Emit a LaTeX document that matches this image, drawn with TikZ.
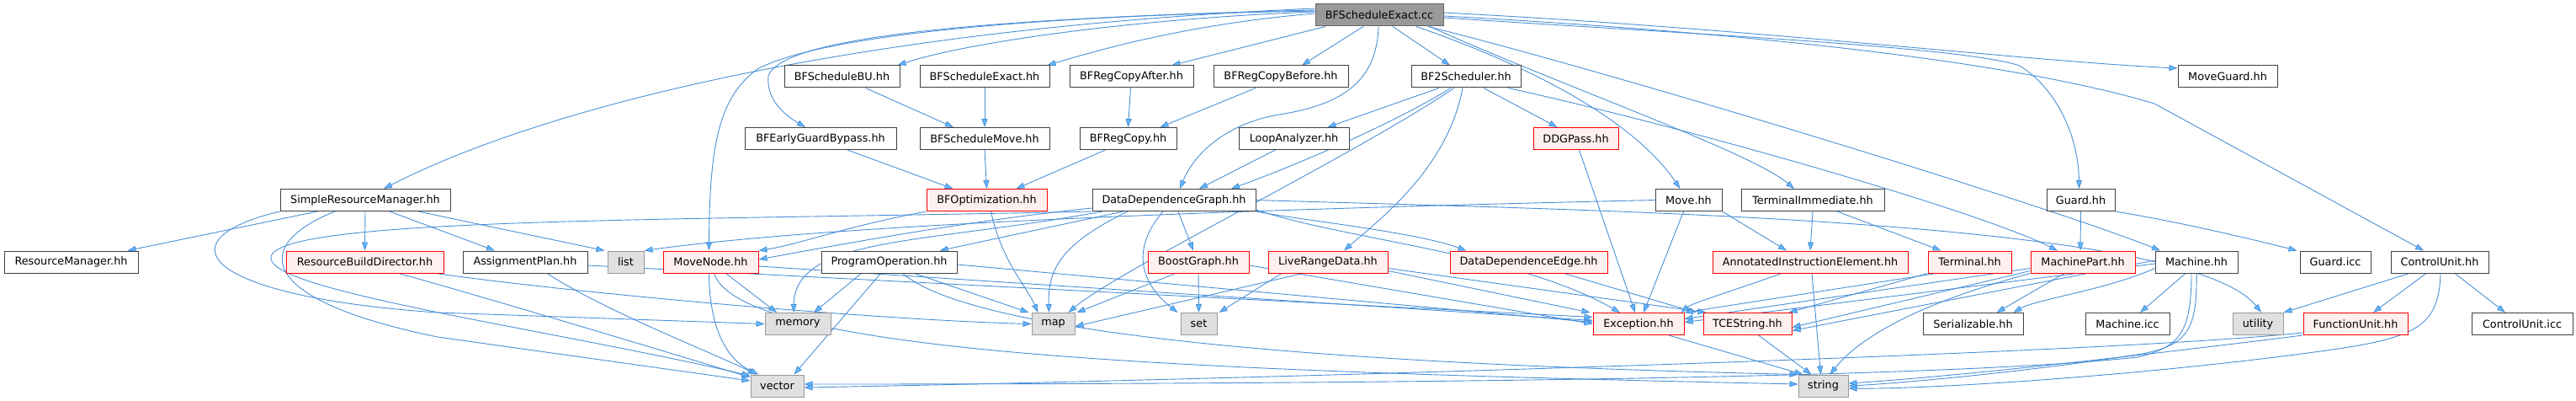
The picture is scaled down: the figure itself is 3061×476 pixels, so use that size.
\documentclass[tikz,border=0pt]{standalone}
\usepackage{fontspec}
\setmainfont{DejaVu Sans}
\usetikzlibrary{arrows.meta}
\definecolor{edgec}{HTML}{4A90D6}
\definecolor{arrowc}{HTML}{63B8FF}
\definecolor{nborder}{HTML}{404040}
\definecolor{rfill}{HTML}{FFF0F0}
\definecolor{sfill}{HTML}{E0E0E0}
\definecolor{sborder}{HTML}{999999}
\definecolor{rootfill}{HTML}{999999}
\definecolor{rootborder}{HTML}{666666}
\pgfdeclarelayer{bg}
\pgfsetlayers{bg,main}
\tikzset{
  base/.style={rectangle, minimum height=26pt, inner sep=0pt, line width=1pt, text=black},
  norm/.style={base, draw=nborder, fill=white},
  trunc/.style={base, draw=red, fill=rfill},
  sys/.style={base, draw=sborder, fill=sfill},
  rootn/.style={base, draw=rootborder, fill=rootfill},
  e/.style={draw=edgec, line width=0.9pt, -{Triangle[length=10pt,width=7pt,fill=arrowc]}}
}
\begin{document}
\begin{tikzpicture}[x=1pt,y=-1pt,font=\fontsize{12.8}{15}\selectfont]
\useasboundingbox (0,0) rectangle (3061,476);
% row 0
\node[rootn, minimum width=152] (root) at (1639,18) {BFScheduleExact.cc};
% row 1
\node[norm, minimum width=137] (bfbu) at (1000.5,91) {BFScheduleBU.hh};
\node[norm, minimum width=154] (bfexh) at (1170,91) {BFScheduleExact.hh};
\node[norm, minimum width=147] (bfrca) at (1344.5,91) {BFRegCopyAfter.hh};
\node[norm, minimum width=160] (bfrcb) at (1522,91) {BFRegCopyBefore.hh};
\node[norm, minimum width=130] (bf2s) at (1742,91) {BF2Scheduler.hh};
\node[norm, minimum width=118] (moveguard) at (2647,91) {MoveGuard.hh};
% row 2
\node[norm, minimum width=180] (bfegb) at (975,164.5) {BFEarlyGuardBypass.hh};
\node[norm, minimum width=154] (bfsm) at (1170,164.5) {BFScheduleMove.hh};
\node[norm, minimum width=115] (bfrc) at (1340.5,164.5) {BFRegCopy.hh};
\node[norm, minimum width=131] (loop) at (1537.5,164.5) {LoopAnalyzer.hh};
\node[trunc, minimum width=101] (ddgpass) at (1872.5,164.5) {DDGPass.hh};
% row 3
\node[norm, minimum width=202] (srm) at (434,237.5) {SimpleResourceManager.hh};
\node[trunc, minimum width=143] (bfopt) at (1172.5,237.5) {BFOptimization.hh};
\node[norm, minimum width=194] (ddg) at (1395,237.5) {DataDependenceGraph.hh};
\node[norm, minimum width=79] (move) at (2006.5,237.5) {Move.hh};
\node[norm, minimum width=170] (termimm) at (2154,237.5) {TerminalImmediate.hh};
\node[norm, minimum width=81] (guard) at (2472.5,237.5) {Guard.hh};
% row 4
\node[norm, minimum width=159] (resmgr) at (84.5,311) {ResourceManager.hh};
\node[trunc, minimum width=187] (rbd) at (433.5,311) {ResourceBuildDirector.hh};
\node[norm, minimum width=148] (aplan) at (624,311) {AssignmentPlan.hh};
\node[sys, minimum width=43] (list) at (743.5,311) {list};
\node[trunc, minimum width=113] (movenode) at (844.5,311) {MoveNode.hh};
\node[norm, minimum width=161] (progop) at (1056.5,311) {ProgramOperation.hh};
\node[trunc, minimum width=120] (boost) at (1424,311) {BoostGraph.hh};
\node[trunc, minimum width=142] (lrd) at (1578,311) {LiveRangeData.hh};
\node[trunc, minimum width=187] (dde) at (1816.5,311) {DataDependenceEdge.hh};
\node[trunc, minimum width=232] (aie) at (2151,311) {AnnotatedInstructionElement.hh};
\node[trunc, minimum width=99] (terminal) at (2340.5,311) {Terminal.hh};
\node[trunc, minimum width=124] (machpart) at (2475,311) {MachinePart.hh};
\node[norm, minimum width=98] (machine) at (2610,311) {Machine.hh};
\node[norm, minimum width=84] (guardicc) at (2775,311) {Guard.icc};
\node[norm, minimum width=116] (cu) at (2899,311) {ControlUnit.hh};
% row 5
\node[sys, minimum width=78] (memory) at (948,384.5) {memory};
\node[sys, minimum width=51] (map) at (1251.5,384.5) {map};
\node[sys, minimum width=43] (set) at (1424.5,384.5) {set};
\node[trunc, minimum width=108] (exception) at (1947,384.5) {Exception.hh};
\node[trunc, minimum width=105] (tcestring) at (2076.5,384.5) {TCEString.hh};
\node[norm, minimum width=119] (serial) at (2344.5,384.5) {Serializable.hh};
\node[norm, minimum width=100] (machicc) at (2528,384.5) {Machine.icc};
\node[sys, minimum width=60] (utility) at (2683,384.5) {utility};
\node[trunc, minimum width=124] (fu) at (2799,384.5) {FunctionUnit.hh};
\node[norm, minimum width=120] (cuicc) at (2997,384.5) {ControlUnit.icc};
% row 6
\node[sys, minimum width=63] (vector) at (923.5,458) {vector};
\node[sys, minimum width=59] (string) at (2166.5,458) {string};

\begin{pgfonlayer}{bg}
% root
\draw[e] ([yshift=4]root.west) .. controls (1350,22) and (1150,50) .. ([xshift=-3]bfbu.north east);
\draw[e] ([yshift=2]root.west) .. controls (1420,28) and (1320,55) .. ([xshift=-3]bfexh.north east);
\draw[e] ([xshift=-64]root.south) -- ([xshift=48]bfrca.north);
\draw[e] ([xshift=-19]root.south) -- ([xshift=25]bfrcb.north);
\draw[e] ([xshift=16]root.south) -- ([xshift=-19]bf2s.north);
\draw[e] ([yshift=6]root.west) .. controls (1150,22) and (930,45) .. (913,90) .. controls (910,120) and (935,138) .. ([xshift=-18]bfegb.north);
\draw[e] ([yshift=5]root.west) .. controls (1150,20) and (960,50) .. (900,82) .. controls (855,115) and (843,170) .. ([xshift=-2]movenode.north);
\draw[e] ([yshift=8]root.west) .. controls (1000,35) and (640,130) .. ([xshift=22]srm.north);
\draw[e] ([xshift=-1]root.south) .. controls (1636,100) and (1590,125) .. (1520,136) .. controls (1460,146) and (1420,180) .. ([xshift=7]ddg.north);
\draw[e] ([xshift=44]root.south) .. controls (1880,100) and (1960,170) .. ([xshift=-10]move.north);
\draw[e] ([xshift=60]root.south) .. controls (1850,100) and (2080,180) .. ([xshift=-22]termimm.north);
\draw[e] ([yshift=-3]root.east) .. controls (2000,40) and (2330,55) .. (2400,78) .. controls (2450,110) and (2470,170) .. ([xshift=-2]guard.north);
\draw[e] ([yshift=3]root.east) .. controls (2100,35) and (2400,72) .. ([yshift=10]moveguard.west);
\draw[e] ([yshift=-1]root.east) .. controls (2100,40) and (2400,75) .. (2560,123) -- ([xshift=-19]cu.north);
\draw[e] ([xshift=58]root.south) .. controls (1950,95) and (2450,250) .. ([xshift=-43]machine.north);
% bf2s
\draw[e] ([xshift=-32]bf2s.south) -- ([xshift=40]loop.north);
\draw[e] ([xshift=21]bf2s.south) -- ([xshift=-22]ddgpass.north);
\draw[e] ([xshift=-18]bf2s.south) .. controls (1650,150) and (1530,200) .. ([xshift=68]ddg.north);
\draw[e] ([xshift=-14]bf2s.south) .. controls (1600,190) and (1330,320) .. ([xshift=18]map.north);
\draw[e] ([xshift=-4]bf2s.south) .. controls (1720,200) and (1640,260) .. ([xshift=19]lrd.north);
\draw[e] ([xshift=50]bf2s.south) .. controls (2000,150) and (2350,250) .. ([xshift=-30]machpart.north);
% rows 1-3
\draw[e] ([xshift=28]bfbu.south) -- ([xshift=-37]bfsm.north);
\draw[e] (bfexh.south) -- (bfsm.north);
\draw[e] ([xshift=-1]bfrca.south) -- (bfrc.north);
\draw[e] ([xshift=-30]bfrcb.south) -- ([xshift=38]bfrc.north);
\draw[e] ([xshift=32]bfegb.south) -- ([xshift=-40]bfopt.north);
\draw[e] (bfsm.south) -- (bfopt.north);
\draw[e] ([xshift=-27]bfrc.south) -- ([xshift=35]bfopt.north);
\draw[e] ([xshift=-22]loop.south) -- ([xshift=30]ddg.north);
\draw[e] ([xshift=4]ddgpass.south) -- ([xshift=-4]exception.north);
% srm
\draw[e] ([xshift=-57]srm.south) -- ([xshift=67]resmgr.north);
\draw[e] (srm.south) -- (rbd.north);
\draw[e] ([xshift=29]srm.south) -- ([xshift=-36]aplan.north);
\draw[e] ([xshift=63]srm.south) -- ([xshift=-3]list.north west);
\draw[e] (srm.south west) .. controls (190,285) and (240,352) .. (520,371) -- (memory.west);
\draw[e] ([xshift=-36]srm.south) .. controls (300,290) and (300,355) .. (520,400) -- ([yshift=6]vector.west);
% rbd, aplan
\draw[e] ([xshift=40]rbd.south) .. controls (550,345) and (800,420) .. ([yshift=10]vector.west);
\draw[e] ([xshift=-10]rbd.south east) .. controls (700,350) and (1050,380) .. (map.west);
\draw[e] ([xshift=26]aplan.south) .. controls (720,370) and (850,420) .. ([xshift=-25]vector.north);
\draw[e] ([yshift=-4]aplan.east) -- ([yshift=8]exception.west);
% movenode
\draw[e] ([xshift=18]movenode.south) -- ([xshift=-25]memory.north);
\draw[e] ([xshift=-2]movenode.south) .. controls (843,400) and (870,430) .. ([xshift=-22]vector.north);
\draw[e] ([xshift=4]movenode.south) .. controls (880,420) and (1400,440) .. ([yshift=2]string.west);
\draw[e] ([yshift=-5]movenode.east) -- ([yshift=4]exception.west);
% progop
\draw[e] ([xshift=-33]progop.south) -- ([xshift=19]memory.north);
\draw[e] ([xshift=-10]progop.south) -- ([xshift=20]vector.north);
\draw[e] ([xshift=30]progop.south) -- ([xshift=-3]map.north west);
\draw[e] ([xshift=16]progop.south) .. controls (1150,390) and (1500,430) .. (string.north west);
\draw[e] ([yshift=-3]progop.east) -- ([yshift=2]exception.west);
% boost, lrd, dde
\draw[e] (boost.south) -- (set.north);
\draw[e] ([xshift=-27]boost.south) -- ([xshift=2]map.north east);
\draw[e] ([yshift=-4]boost.east) -- (exception.west);
\draw[e] ([xshift=-55]lrd.south) -- ([xshift=2]set.north east);
\draw[e] ([xshift=-30]lrd.south) -- ([yshift=-3]map.east);
\draw[e] ([yshift=3]lrd.south east) -- ([xshift=-3]exception.north west);
\draw[e] ([yshift=6]lrd.south east) -- ([xshift=4]tcestring.north west);
\draw[e] ([xshift=42]dde.south) -- ([xshift=-8]tcestring.north west);
% ddg
\draw[e] ([xshift=5]ddg.south) -- ([xshift=-6]boost.north);
\draw[e] ([xshift=-13]ddg.south) .. controls (1340,300) and (1360,340) .. ([xshift=-25]set.north);
\draw[e] ([xshift=-55]ddg.south) .. controls (1260,290) and (1245,320) .. ([xshift=-5]map.north);
\draw[e] ([xshift=-85]ddg.south) .. controls (1100,290) and (945,280) .. ([xshift=-5]memory.north);
\draw[e] ([yshift=4]ddg.south west) .. controls (1150,262) and (1000,290) .. ([yshift=3]movenode.east);
\draw[e] ([xshift=-60]ddg.south) -- ([xshift=60]progop.north);
\draw[e] (ddg.south east) .. controls (1550,262) and (1680,275) .. ([xshift=-74]dde.north);
\draw[e] (ddg.east) .. controls (1900,250) and (2600,260) .. ([xshift=4]utility.north);
\draw[e] ([yshift=2]ddg.south east) .. controls (1600,285) and (1800,300) .. ([xshift=-22]exception.north);
\draw[e] (ddg.south west) .. controls (800,262) and (330,258) .. (322,305) .. controls (315,345) and (650,390) .. ([yshift=12]vector.west);
% bfopt
\draw[e] ([xshift=5]bfopt.south) .. controls (1190,310) and (1220,340) .. ([xshift=-18]map.north);
\draw[e] (bfopt.south west) .. controls (1000,270) and (950,290) .. (movenode.north east);
% move
\draw[e] ([xshift=-6]move.south) -- ([xshift=6]exception.north);
\draw[e] (move.south east) -- ([xshift=-28]aie.north);
\draw[e] (move.west) .. controls (1500,248) and (1000,265) .. (list.north east);
% termimm, aie
\draw[e] (termimm.south) -- (aie.north);
\draw[e] ([xshift=29]termimm.south) -- ([xshift=-34]terminal.north);
\draw[e] ([xshift=2]aie.south) -- ([xshift=-3]string.north);
\draw[e] ([xshift=-34]aie.south) .. controls (2060,345) and (2010,360) .. ([xshift=-4]exception.north east);
% terminal, machpart
\draw[e] (terminal.south west) -- ([xshift=-4]tcestring.north east);
\draw[e] ([xshift=-40]terminal.south) -- (exception.north east);
\draw[e] ([xshift=-22]machpart.south) -- ([xshift=28]serial.north);
\draw[e] (machpart.south west) .. controls (2280,360) and (2210,400) .. ([xshift=8]string.north);
\draw[e] ([yshift=3]machpart.south west) -- ([yshift=-4]tcestring.east);
\draw[e] ([yshift=6]machpart.south west) -- ([yshift=6]exception.east);
% machine
\draw[e] ([yshift=6]machine.south west) .. controls (2500,345) and (2420,355) .. ([xshift=48]serial.north);
\draw[e] ([xshift=-13]machine.south) -- ([xshift=15]machicc.north);
\draw[e] (machine.south) .. controls (2611,390) and (2600,410) .. (2545,420) .. controls (2420,440) and (2260,455) .. (string.east);
\draw[e] ([xshift=-6]machine.south) .. controls (2604,395) and (2590,412) .. (2540,424) .. controls (2300,450) and (1600,456) .. ([yshift=2]vector.east);
\draw[e] ([yshift=2]machine.west) -- ([yshift=-8]tcestring.east);
\draw[e] ([yshift=-2]machine.west) -- ([yshift=2]exception.east);
% cu, fu
\draw[e] ([xshift=-36]cu.south) -- (utility.north east);
\draw[e] ([xshift=-16]cu.south) -- ([xshift=21]fu.north);
\draw[e] ([xshift=18]cu.south) -- ([xshift=-20]cuicc.north);
\draw[e] ([xshift=1]cu.south) .. controls (2898,390) and (2870,402) .. (2750,418) .. controls (2550,445) and (2300,462) .. ([yshift=-3]string.east);
\draw[e] (fu.south west) .. controls (2600,415) and (2350,445) .. ([yshift=3]string.east);
\draw[e] ([yshift=3]fu.south west) .. controls (2500,420) and (1500,450) .. ([yshift=-2]vector.east);
% exception, tcestring, guard
\draw[e] ([xshift=36]exception.south) -- ([xshift=6]string.north west);
\draw[e] ([xshift=13]tcestring.south) -- ([xshift=-14]string.north);
\draw[e] (guard.south) -- ([xshift=-3]machpart.north);
\draw[e] (guard.south east) .. controls (2600,265) and (2700,290) .. ([xshift=-3]guardicc.north west);
\end{pgfonlayer}
\end{tikzpicture}
\end{document}
